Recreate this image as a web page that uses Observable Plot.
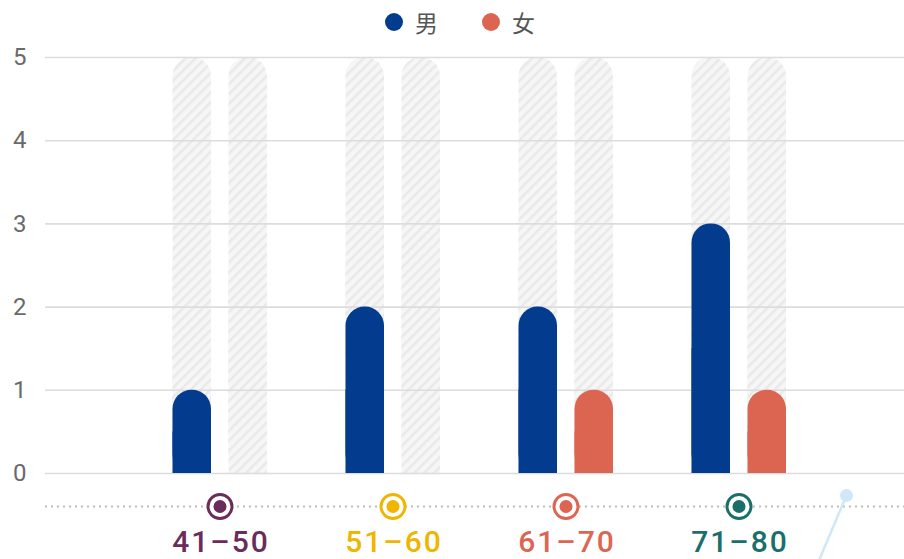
<!DOCTYPE html>
<html><head><meta charset="utf-8">
<script src="https://cdn.jsdelivr.net/npm/d3@7"></script>
<script src="https://cdn.jsdelivr.net/npm/@observablehq/plot@0.6"></script>
<style>
body{margin:0;background:#fff;width:904px;height:559px;overflow:hidden;font-family:"Liberation Sans",sans-serif}
#legend{height:44px;display:flex;align-items:center;justify-content:center;padding-left:16px;box-sizing:border-box;font-family:"Noto Sans CJK SC",sans-serif;font-size:23px;color:#555}
.item{display:flex;align-items:center;margin:0 22px}
.sw{width:18px;height:18px;border-radius:50%;margin-right:12px}
#chart svg{display:block;overflow:visible}
</style></head><body>
<div id="legend"></div>
<div id="chart"></div>
<script>
// ---- data ----
const groups = ["41–50", "51–60", "61–70", "71–80"];
const sexes = ["男", "女"];
const male = [1, 2, 2, 3];
const female = [0, 0, 1, 1];
const yTicks = [0, 1, 2, 3, 4, 5];
const pointerGroup = ["71–80"];

// ---- styles ----
const sexColors = ["#033b8e", "#dc6551"];
const groupColors = ["#6a2c5a", "#efb500", "#dd6652", "#1b6f6b"];
const bgColor = "#f4f4f5";
const yMax = d3.max(yTicks);

const maleRows = groups.map((g, i) => ({group: g, value: male[i]})).filter(d => d.value > 0);
const femaleRows = groups.map((g, i) => ({group: g, value: female[i]})).filter(d => d.value > 0);
const bgRows = groups.map(g => ({group: g, value: yMax}));

const insets = [
  {insetLeft: 39.5, insetRight: 95},
  {insetLeft: 95.5, insetRight: 39}
];

function roundedBars(rows, k, fill) {
  return [
    Plot.barY(rows, {x: "group", y1: 0, y2: "value", fill, rx: 19, ...insets[k]}),
    Plot.barY(rows, {x: "group", y1: 0, y2: d => d.value / 2, fill, ...insets[k]})
  ];
}

// legend
const legend = d3.select("#legend");
sexes.forEach((s, k) => {
  const it = legend.append("div").attr("class", "item");
  it.append("div").attr("class", "sw").style("background", sexColors[k]);
  it.append("span").text(s);
});

const svg = Plot.plot({
  width: 904,
  height: 515,
  marginLeft: 45,
  marginRight: 0,
  marginTop: 13,
  marginBottom: 86,
  x: {domain: groups, range: [132.5, 824.5], padding: 0, axis: null},
  y: {domain: [0, yMax], axis: null},
  color: {domain: groups, range: groupColors},
  style: {fontFamily: "Liberation Sans, sans-serif", background: "white", overflow: "visible"},
  marks: [
    ...roundedBars(bgRows, 0, bgColor),
    ...roundedBars(bgRows, 1, bgColor),
    Plot.gridY(yTicks, {stroke: "#dcdcdc", strokeOpacity: 1, strokeWidth: 1.6}),
    Plot.ruleY([0], {dy: 33, stroke: "#bdbdbd", strokeWidth: 2, strokeDasharray: "2,4"}),
    ...roundedBars(maleRows, 0, sexColors[0]),
    ...roundedBars(femaleRows, 1, sexColors[1]),
    Plot.dot(groups, {x: d => d, frameAnchor: "bottom", dy: 33, r: 12, stroke: d => d, strokeWidth: 3, fill: "white"}),
    Plot.dot(groups, {x: d => d, frameAnchor: "bottom", dy: 33, r: 6.5, fill: d => d}),
    Plot.text(groups, {x: d => d, text: d => d, frameAnchor: "bottom", dx: 1, dy: 69, lineAnchor: "middle", fill: d => d, fontSize: 30, fontWeight: 500, fontFamily: "Roboto, sans-serif"}),
    Plot.vector(pointerGroup, {x: d => d, frameAnchor: "bottom", dx: 107.5, dy: 22, length: 75, rotate: 203, anchor: "start", stroke: "#cfe7f7", strokeWidth: 2.5,
      shape: {draw(ctx, l) { ctx.moveTo(0, 0); ctx.lineTo(0, -l); }}}),
    Plot.dot(pointerGroup, {x: d => d, frameAnchor: "bottom", dx: 107.5, dy: 22, r: 6.5, fill: "#cfe7f7"}),
    Plot.axisY({ticks: yTicks, tickSize: 0, tickPadding: 19, fontSize: 24, fontFamily: "Roboto, sans-serif", fill: "#6a6a6a", tickFormat: d => d, label: null})
  ]
});

const s = d3.select(svg);
const defs = s.insert("defs", ":first-child");
const pat = defs.append("pattern")
  .attr("id", "hatch")
  .attr("patternUnits", "userSpaceOnUse")
  .attr("width", 7).attr("height", 7)
  .attr("patternTransform", "rotate(45)");
pat.append("rect").attr("width", 7).attr("height", 7).attr("fill", "#f6f6f6");
pat.append("rect").attr("x", 0).attr("y", 0).attr("width", 2.5).attr("height", 7).attr("fill", "#e9e9e9");
s.selectAll(`g[fill="${bgColor}"]`).attr("fill", "url(#hatch)");
s.selectAll(`rect[fill="${bgColor}"]`).attr("fill", "url(#hatch)");
s.selectAll('g[aria-label="text"] text').style("letter-spacing", "2px");
document.getElementById("chart").appendChild(svg);
</script>
</body></html>
